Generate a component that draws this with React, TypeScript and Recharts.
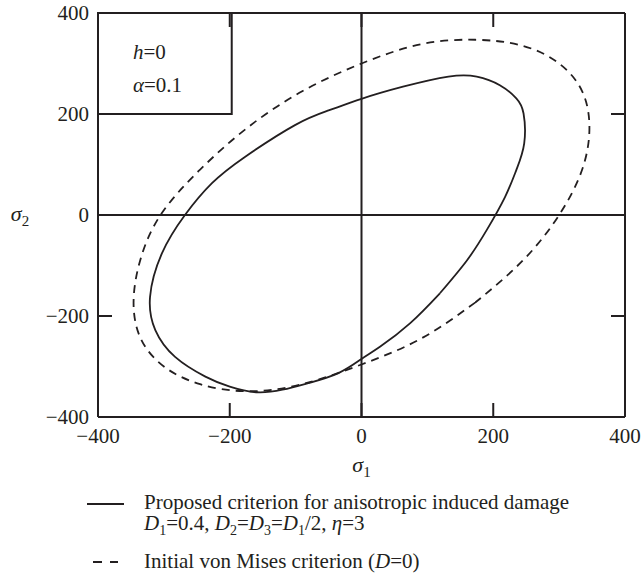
import React from 'react';
import { LineChart, Line, XAxis, YAxis, ReferenceLine, ReferenceArea, Legend } from 'recharts';

const INK = '#231f20';
const FONT = '"Liberation Serif", "Times New Roman", serif';

const xTicks = [-400, -200, 0, 200, 400];
const yTicks = [-400, -200, 0, 200, 400];

// Proposed criterion (solid), traced clockwise
const proposedX = [119, 74, 28, 0, -35, -81, -120, -160, -200, -237, -283, -313, -321, -303, -268, -227, -177, -101, -50, 0, 63, 132, 175, 210, 235, 246, 247, 235, 218, 190, 160, 119];
const proposedY = [-155, -214, -261, -285, -313, -333, -346, -351, -340, -320, -281, -228, -162, -76, 0, 63, 115, 178, 207, 230, 254, 274, 274, 257, 231, 201, 142, 89, 36, -30, -90, -155];

// Initial von Mises criterion (dashed), traced clockwise
const vonMisesX = [173, 90, 0, -90, -173, -245, -300, -335, -346, -336, -305, -245, -173, -90, 0, 90, 173, 245, 300, 335, 346, 335, 300, 245, 173];
const vonMisesY = [-173, -245, -296, -335, -349, -335, -300, -245, -173, -90, 0, 90, 173, 245, 300, 338, 347, 335, 300, 245, 173, 90, 0, -90, -173];

const proposed = proposedX.map((x, i) => ({ x, y: proposedY[i] }));
const vonMises = vonMisesX.map((x, i) => ({ x, y: vonMisesY[i] }));

const fmt = (v: number) => (v < 0 ? '\u2212' + Math.abs(v) : String(v));

const BottomTick = (p: any) => (
  <g>
    <line x1={p.x} x2={p.x} y1={p.y} y2={p.y - 14} stroke={INK} strokeWidth={2} />
    <text x={p.x} y={p.y + 26} textAnchor="middle" fontFamily={FONT} fontSize={21} fill={INK}>
      {fmt(p.payload.value)}
    </text>
  </g>
);
const LeftTick = (p: any) => (
  <g>
    <line x1={p.x} x2={p.x + 14} y1={p.y} y2={p.y} stroke={INK} strokeWidth={2} />
    <text x={p.x - 9} y={p.y + 7} textAnchor="end" fontFamily={FONT} fontSize={21} fill={INK}>
      {fmt(p.payload.value)}
    </text>
  </g>
);
const TopTick = (p: any) => (
  <line x1={p.x} x2={p.x} y1={p.y} y2={p.y + 14} stroke={INK} strokeWidth={2} />
);
const RightTick = (p: any) => (
  <line x1={p.x} x2={p.x - 14} y1={p.y} y2={p.y} stroke={INK} strokeWidth={2} />
);

const XTitle = (p: any) => {
  const vb = p.viewBox || { x: 0, y: 0, width: 0 };
  return (
    <text x={vb.x + vb.width / 2} y={vb.y + 55} textAnchor="middle" fontFamily={FONT} fontSize={22} fill={INK}>
      <tspan fontStyle="italic">σ</tspan>
      <tspan fontSize={15} dy={5}>1</tspan>
    </text>
  );
};
const YTitle = (p: any) => {
  const vb = p.viewBox || { x: 0, y: 0, height: 0 };
  return (
    <text x={20} y={vb.y + vb.height / 2 + 6} textAnchor="middle" fontFamily={FONT} fontSize={22} fill={INK}>
      <tspan fontStyle="italic">σ</tspan>
      <tspan fontSize={15} dy={5}>2</tspan>
    </text>
  );
};

const BoxLabel = (p: any) => {
  const vb = p.viewBox || { x: 0, y: 0 };
  return (
    <g fontFamily={FONT} fontSize={21} fill={INK}>
      <text x={vb.x + 35} y={vb.y + 46}>
        <tspan fontStyle="italic">h</tspan>
        <tspan>=0</tspan>
      </text>
      <text x={vb.x + 35} y={vb.y + 79}>
        <tspan fontStyle="italic">α</tspan>
        <tspan>=0.1</tspan>
      </text>
    </g>
  );
};

const LegendBlock = () => (
  <svg width={643} height={92} style={{ display: 'block' }}>
    <g fontFamily={FONT} fontSize={21} fill={INK}>
      <line x1={87} x2={124} y1={19} y2={19} stroke={INK} strokeWidth={2} />
      <text x={144} y={24}>Proposed criterion for anisotropic induced damage</text>
      <text x={144} y={45}>
        <tspan fontStyle="italic">D</tspan>
        <tspan fontSize={14} dy={5}>1</tspan>
        <tspan dy={-5}>=0.4, </tspan>
        <tspan fontStyle="italic">D</tspan>
        <tspan fontSize={14} dy={5}>2</tspan>
        <tspan dy={-5}>=</tspan>
        <tspan fontStyle="italic">D</tspan>
        <tspan fontSize={14} dy={5}>3</tspan>
        <tspan dy={-5}>=</tspan>
        <tspan fontStyle="italic">D</tspan>
        <tspan fontSize={14} dy={5}>1</tspan>
        <tspan dy={-5}>/2, </tspan>
        <tspan fontStyle="italic">η</tspan>
        <tspan>=3</tspan>
      </text>
      <line x1={93} x2={118} y1={77} y2={77} stroke={INK} strokeWidth={2} strokeDasharray="9 8" />
      <text x={144} y={83}>
        <tspan>Initial von Mises criterion (</tspan>
        <tspan fontStyle="italic">D</tspan>
        <tspan>=0)</tspan>
      </text>
    </g>
  </svg>
);

export default function App() {
  return (
    <div style={{ position: 'absolute', left: 0, top: 0, width: 643, height: 577, background: '#fff' }}>
      <LineChart width={643} height={577} margin={{ top: 12, right: 17, bottom: 159, left: 97 }}>
        <XAxis
          xAxisId="b"
          type="number"
          dataKey="x"
          domain={[-400, 400]}
          ticks={xTicks}
          allowDataOverflow
          height={1}
          tickSize={0}
          tickMargin={0}
          tickLine={false}
          axisLine={{ stroke: INK, strokeWidth: 2 }}
          tick={<BottomTick />}
          interval={0}
          label={<XTitle />}
        />
        <XAxis
          xAxisId="t"
          orientation="top"
          type="number"
          dataKey="x"
          domain={[-400, 400]}
          ticks={xTicks}
          allowDataOverflow
          height={1}
          tickSize={0}
          tickMargin={0}
          tickLine={false}
          axisLine={{ stroke: INK, strokeWidth: 2 }}
          tick={<TopTick />}
          interval={0}
        />
        <YAxis
          yAxisId="l"
          type="number"
          dataKey="y"
          domain={[-400, 400]}
          ticks={yTicks}
          allowDataOverflow
          width={1}
          tickSize={0}
          tickMargin={0}
          tickLine={false}
          axisLine={{ stroke: INK, strokeWidth: 2 }}
          tick={<LeftTick />}
          interval={0}
          label={<YTitle />}
        />
        <YAxis
          yAxisId="r"
          orientation="right"
          type="number"
          dataKey="y"
          domain={[-400, 400]}
          ticks={yTicks}
          allowDataOverflow
          width={1}
          tickSize={0}
          tickMargin={0}
          tickLine={false}
          axisLine={{ stroke: INK, strokeWidth: 2 }}
          tick={<RightTick />}
          interval={0}
        />
        <ReferenceArea
          xAxisId="b"
          yAxisId="l"
          x1={-400}
          x2={-197}
          y1={200}
          y2={400}
          fill="#fff"
          fillOpacity={1}
          stroke={INK}
          strokeWidth={2}
          label={<BoxLabel />}
          ifOverflow="visible"
        />
        <ReferenceLine xAxisId="b" yAxisId="l" x={0} stroke={INK} strokeWidth={2} />
        <ReferenceLine xAxisId="b" yAxisId="l" y={0} stroke={INK} strokeWidth={2} />
        <Line
          xAxisId="b"
          yAxisId="l"
          data={vonMises}
          dataKey="y"
          type="natural"
          stroke={INK}
          strokeWidth={1.8}
          strokeDasharray="8 6"
          dot={false}
          activeDot={false}
          isAnimationActive={false}
          name="Initial von Mises criterion (D=0)"
        />
        <Line
          xAxisId="b"
          yAxisId="l"
          data={proposed}
          dataKey="y"
          type="natural"
          stroke={INK}
          strokeWidth={1.8}
          dot={false}
          activeDot={false}
          isAnimationActive={false}
          name="Proposed criterion"
        />
        <Legend
          layout="horizontal"
          verticalAlign="middle"
          align="center"
          wrapperStyle={{ left: 0, top: 485, width: 643, height: 92 }}
          content={() => <LegendBlock />}
        />
      </LineChart>
    </div>
  );
}
